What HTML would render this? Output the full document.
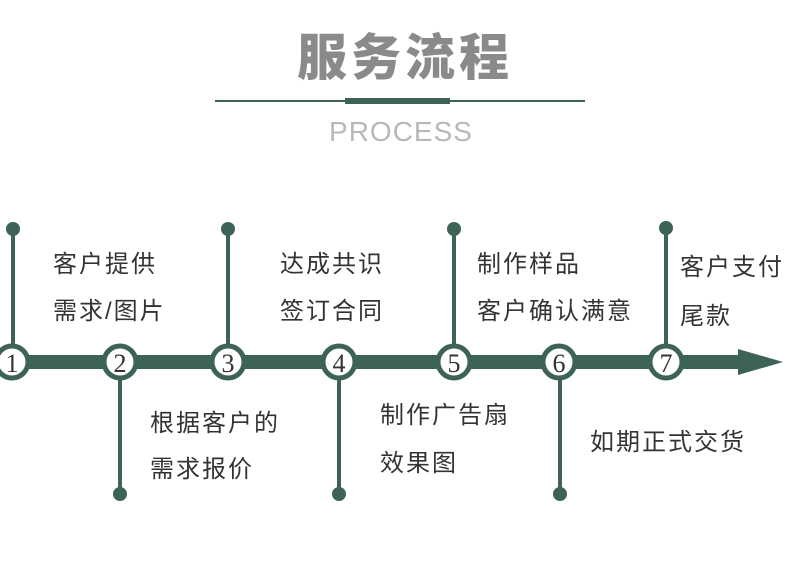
<!DOCTYPE html>
<html><head><meta charset="utf-8"><style>
body{margin:0;width:790px;height:579px;background:#fff;overflow:hidden;position:relative;font-family:"Liberation Sans","Noto Sans CJK SC",sans-serif}
.t{position:absolute;font-size:24px;letter-spacing:2px;color:#333;line-height:26px;white-space:nowrap}
</style></head><body>
<div style="position:absolute;left:0;width:790px;top:28px;text-align:center;font-size:50px;font-weight:900;color:#8a8a8a;letter-spacing:4px;line-height:60px;padding-left:20px;box-sizing:border-box">服务流程</div>
<div style="position:absolute;left:215px;top:100px;width:370px;height:2px;background:#3d6358"></div>
<div style="position:absolute;left:345px;top:98px;width:105px;height:6px;background:#3d6358"></div>
<div style="position:absolute;left:0;width:802px;top:116px;text-align:center;font-size:28px;font-weight:100;color:#b8b8b8;letter-spacing:1px;font-family:'DejaVu Sans ExtraLight','Liberation Sans',sans-serif">PROCESS</div>
<svg width="790" height="579" style="position:absolute;left:0;top:0">
<g stroke="#3d6358" fill="#3d6358">
<rect x="0" y="355" width="745" height="14" stroke="none"/>
<polygon points="738,349 783,362 738,375" stroke="none"/>
<line x1="13" y1="229" x2="13" y2="350" stroke-width="4"/><circle cx="13" cy="229" r="7" stroke="none"/>
<line x1="228" y1="229" x2="228" y2="350" stroke-width="4"/><circle cx="228" cy="229" r="7" stroke="none"/>
<line x1="454" y1="229" x2="454" y2="350" stroke-width="4"/><circle cx="454" cy="229" r="7" stroke="none"/>
<line x1="666" y1="228" x2="666" y2="350" stroke-width="4"/><circle cx="666" cy="228" r="7" stroke="none"/>
<line x1="120" y1="375" x2="120" y2="494" stroke-width="4"/><circle cx="120" cy="494" r="7" stroke="none"/>
<line x1="339" y1="375" x2="339" y2="494" stroke-width="4"/><circle cx="339" cy="494" r="7" stroke="none"/>
<line x1="560" y1="375" x2="560" y2="494" stroke-width="4"/><circle cx="560" cy="494" r="7" stroke="none"/>
</g>
<g fill="#fff" stroke="#3d6358" stroke-width="5">
<circle cx="12" cy="362" r="16"/><circle cx="120" cy="362" r="16"/><circle cx="228" cy="362" r="16"/><circle cx="339" cy="362" r="16"/><circle cx="454" cy="362" r="16"/><circle cx="559" cy="362" r="16"/><circle cx="666" cy="362" r="16"/>
</g>
<g font-family="Liberation Serif,serif" font-size="26" fill="#333" text-anchor="middle">
<text x="12" y="372">1</text><text x="120" y="372">2</text><text x="228" y="372">3</text><text x="339" y="372">4</text><text x="454" y="372">5</text><text x="559" y="372">6</text><text x="666" y="372">7</text>
</g>
</svg>
<div class="t" style="left:53px;top:252px">客户提供</div>
<div class="t" style="left:53px;top:299px">需求/图片</div>
<div class="t" style="left:280px;top:252px">达成共识</div>
<div class="t" style="left:280px;top:299px">签订合同</div>
<div class="t" style="left:477px;top:252px">制作样品</div>
<div class="t" style="left:477px;top:299px">客户确认满意</div>
<div class="t" style="left:680px;top:255px">客户支付</div>
<div class="t" style="left:680px;top:304px">尾款</div>
<div class="t" style="left:150px;top:411px">根据客户的</div>
<div class="t" style="left:150px;top:457px">需求报价</div>
<div class="t" style="left:380px;top:403px">制作广告扇</div>
<div class="t" style="left:380px;top:451px">效果图</div>
<div class="t" style="left:590px;top:430px">如期正式交货</div>
</body></html>
